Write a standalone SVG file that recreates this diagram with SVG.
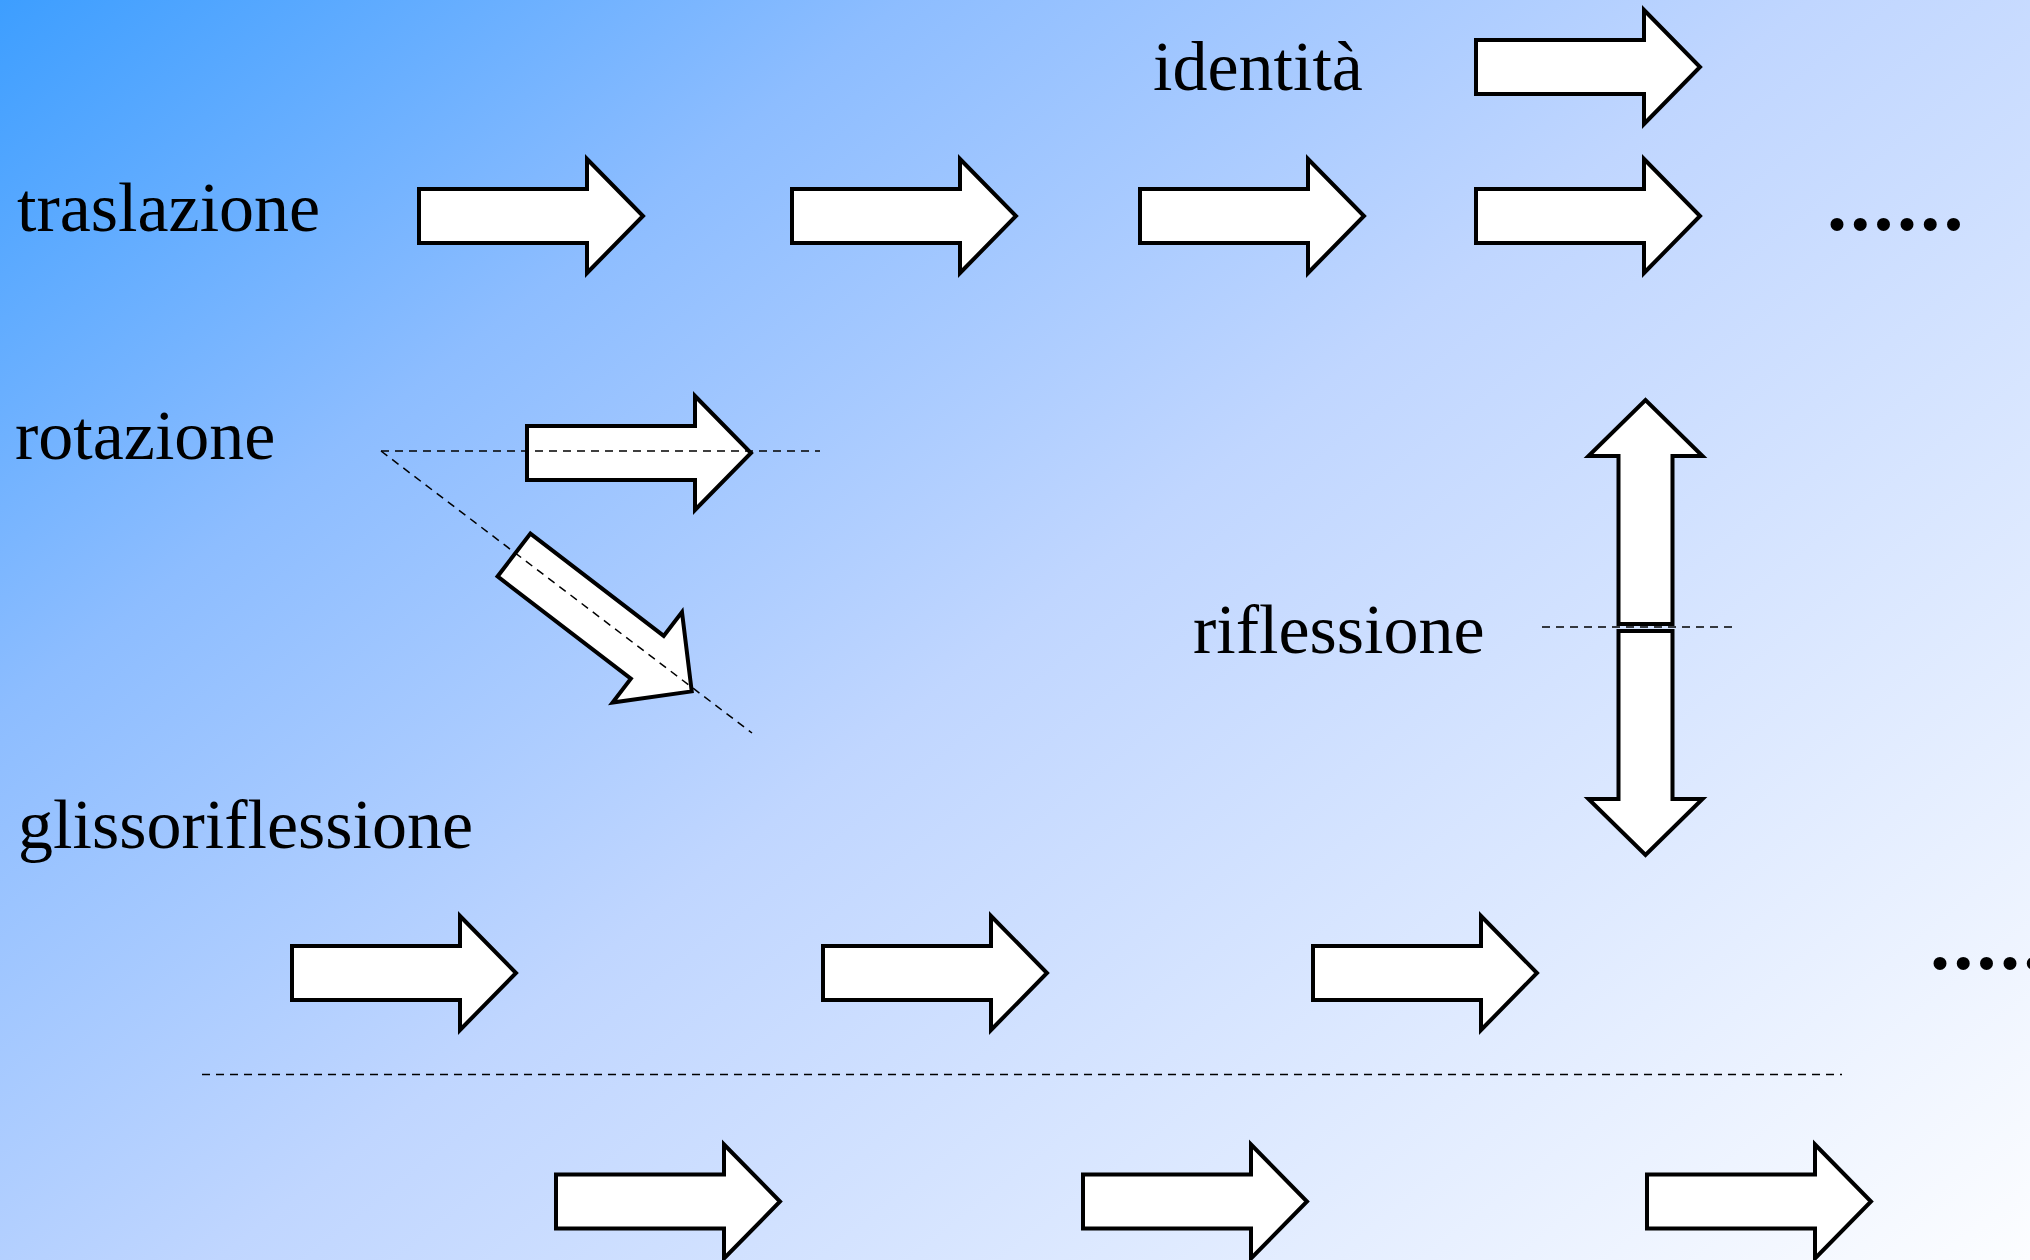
<svg xmlns="http://www.w3.org/2000/svg" width="2030" height="1260" viewBox="0 0 2030 1260">
<defs>
<linearGradient id="bg" gradientUnits="userSpaceOnUse" x1="0" y1="0" x2="1393" y2="1763">
<stop offset="0" stop-color="#3d9eff"/>
<stop offset="0.25" stop-color="#8dbdff"/>
<stop offset="0.5" stop-color="#c0d6ff"/>
<stop offset="1" stop-color="#fcfdff"/>
</linearGradient>
<path id="arr" d="M0,-27 H168 V-57 L224,0 L168,57 V27 H0 Z"/>
<style>
.lbl{font-family:"Liberation Serif","Times New Roman",serif;font-size:70px;fill:#000}
.dots{font-family:"Liberation Serif","Times New Roman",serif;font-size:80px;font-weight:bold;letter-spacing:3.3px;fill:#000}
.a{fill:#fff;stroke:#000;stroke-width:4;stroke-linejoin:miter;stroke-miterlimit:10}
.dash{fill:none;stroke:#000;stroke-width:1.5;stroke-dasharray:8 6}
</style>
</defs>
<rect width="2030" height="1260" fill="url(#bg)"/>

<g id="identita">
<text class="lbl" x="1153" y="90">identità</text>
<use href="#arr" class="a" x="1476" y="67"/>
</g>

<g id="traslazione">
<text class="lbl" x="17" y="231">traslazione</text>
<use href="#arr" class="a" x="419" y="216"/>
<use href="#arr" class="a" x="792" y="216"/>
<use href="#arr" class="a" x="1140" y="216"/>
<use href="#arr" class="a" x="1476" y="216"/>
<text class="dots" x="1827" y="230">......</text>
</g>

<g id="rotazione">
<text class="lbl" x="15" y="459">rotazione</text>
<use href="#arr" class="a" x="527" y="453"/>
<use href="#arr" class="a" transform="translate(514,555) rotate(37.5)"/>
</g>

<g id="riflessione">
<text class="lbl" x="1193" y="653">riflessione</text>
<use href="#arr" class="a" transform="translate(1645.5,624) rotate(-90)"/>
<use href="#arr" class="a" transform="translate(1645.5,631) rotate(90)"/>
</g>

<g id="glissoriflessione">
<text class="lbl" x="18" y="848">glissoriflessione</text>
<use href="#arr" class="a" x="292" y="973"/>
<use href="#arr" class="a" x="823" y="973"/>
<use href="#arr" class="a" x="1313" y="973"/>
<text class="dots" x="1930" y="969">.....</text>
<use href="#arr" class="a" x="556" y="1201.5"/>
<use href="#arr" class="a" x="1083" y="1201.5"/>
<use href="#arr" class="a" x="1647" y="1201.5"/>
</g>

<g id="connectors">
<line class="dash" x1="381" y1="451" x2="820" y2="451"/>
<line class="dash" x1="381" y1="451" x2="752" y2="733"/>
<line class="dash" x1="1542" y1="627" x2="1736" y2="627"/>
<line class="dash" x1="202" y1="1074.5" x2="1842" y2="1074.5"/>
</g>
</svg>
